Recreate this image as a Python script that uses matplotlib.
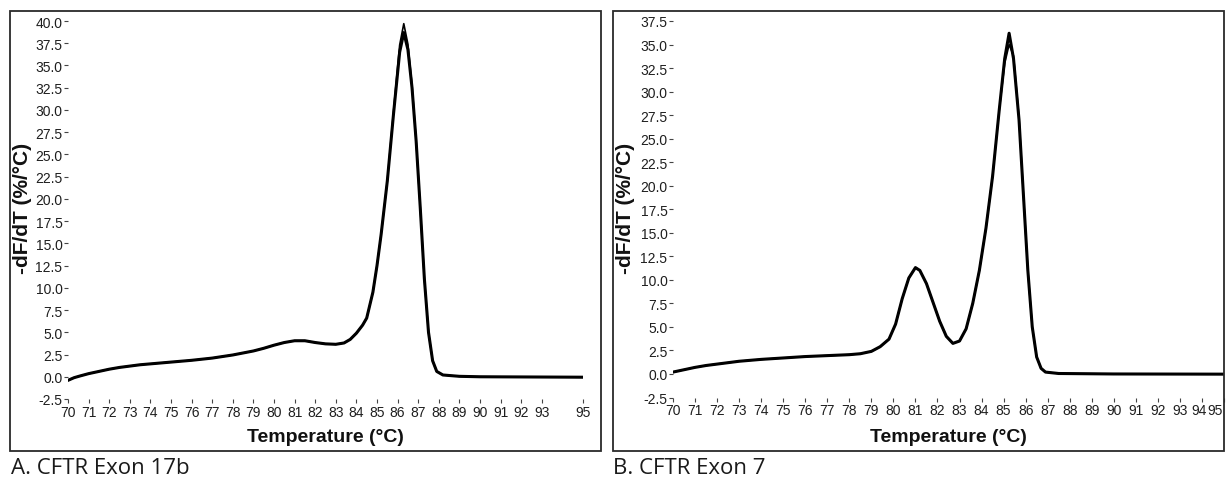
import matplotlib
matplotlib.use("Agg")
import matplotlib.pyplot as plt
from matplotlib.patches import Rectangle
from matplotlib.transforms import ScaledTranslation

# Melt-curve derivative traces (temperature in degrees C, -dF/dT in %/degC)
temp_a = [70.0, 70.3, 70.6, 71.0, 71.5, 72.0, 72.5, 73.0, 73.5, 74.0, 75.0, 76.0,
          77.0, 78.0, 79.0, 79.5, 80.0, 80.5, 81.0, 81.5, 82.0, 82.5, 83.0, 83.4,
          83.7, 84.0, 84.3, 84.5, 84.8, 85.0, 85.2, 85.5, 85.8, 86.1, 86.3, 86.5,
          86.7, 86.9, 87.1, 87.3, 87.5, 87.7, 87.9, 88.2, 89.0, 90.0, 92.0, 95.0]
dfdt_a1 = [-0.4, -0.1, 0.1, 0.35, 0.6, 0.85, 1.05, 1.2, 1.35, 1.45, 1.65, 1.85,
           2.1, 2.45, 2.9, 3.2, 3.55, 3.85, 4.05, 4.05, 3.85, 3.7, 3.65, 3.8,
           4.2, 4.9, 5.8, 6.6, 9.5, 12.5, 16.0, 22.0, 29.5, 36.5, 38.7, 36.8,
           32.5, 26.5, 19.0, 11.0, 5.0, 1.8, 0.6, 0.2, 0.05, 0.0, -0.02, -0.05]
dfdt_a2 = [-0.4, -0.1, 0.1, 0.35, 0.6, 0.85, 1.05, 1.2, 1.35, 1.45, 1.65, 1.85,
           2.1, 2.45, 2.9, 3.2, 3.55, 3.85, 4.05, 4.05, 3.85, 3.7, 3.65, 3.8,
           4.2, 4.9, 5.8, 6.6, 9.5, 12.5, 16.0, 22.0, 29.8, 37.3, 39.7, 37.4,
           32.8, 26.5, 19.0, 11.0, 5.0, 1.8, 0.6, 0.2, 0.05, 0.0, -0.02, -0.05]

temp_b = [70.0, 70.5, 71.0, 71.5, 72.0, 72.5, 73.0, 73.5, 74.0, 75.0, 76.0, 77.0,
          78.0, 78.5, 79.0, 79.4, 79.8, 80.1, 80.4, 80.7, 81.0, 81.2, 81.5, 81.8,
          82.1, 82.4, 82.7, 83.0, 83.3, 83.6, 83.9, 84.2, 84.5, 84.8, 85.05, 85.25,
          85.45, 85.7, 85.9, 86.1, 86.3, 86.5, 86.7, 86.9, 87.5, 90.0, 95.0]
dfdt_b1 = [0.2, 0.45, 0.7, 0.9, 1.05, 1.2, 1.35, 1.45, 1.55, 1.7, 1.85, 1.95,
           2.05, 2.15, 2.4, 2.9, 3.7, 5.3, 8.0, 10.2, 11.3, 11.0, 9.6, 7.6,
           5.6, 4.0, 3.25, 3.5, 4.8, 7.5, 11.0, 15.5, 21.0, 28.0, 33.5, 36.2,
           33.5, 27.0, 19.0, 11.0, 5.0, 1.8, 0.6, 0.2, 0.05, 0.0, -0.02]
dfdt_b2 = [0.2, 0.45, 0.7, 0.9, 1.05, 1.2, 1.35, 1.45, 1.55, 1.7, 1.85, 1.95,
           2.05, 2.15, 2.4, 2.9, 3.7, 5.3, 8.0, 10.2, 11.3, 11.0, 9.6, 7.6,
           5.6, 4.0, 3.25, 3.5, 4.8, 7.5, 11.0, 15.5, 21.0, 28.0, 33.0, 35.0,
           33.8, 27.2, 19.0, 11.0, 5.0, 1.8, 0.6, 0.2, 0.05, 0.0, -0.02]

xticks_a = [70, 71, 72, 73, 74, 75, 76, 77, 78, 79, 80, 81, 82, 83, 84, 85, 86,
            87, 88, 89, 90, 91, 92, 93, 95]
xticks_b = list(range(70, 96))
yticks_a = [-2.5, 0.0, 2.5, 5.0, 7.5, 10.0, 12.5, 15.0, 17.5, 20.0, 22.5, 25.0,
            27.5, 30.0, 32.5, 35.0, 37.5, 40.0]
yticks_b = yticks_a[:-1]

captions = ["A. CFTR Exon 17b", "B. CFTR Exon 7"]
ylabel = "-dF/dT (%/°C)"
xlabel = "Temperature (°C)"

W, H = 1226, 489
fig = plt.figure(figsize=(W / 100, H / 100), dpi=100)
fig.patch.set_facecolor("white")

TICK_FONT = ["Liberation Sans", "DejaVu Sans"]


def px_axes(x0, x1, y_top, y_bot):
    return fig.add_axes([x0 / W, 1 - y_bot / H, (x1 - x0) / W, (y_bot - y_top) / H])


def frame(x0, y0, x1, y1):
    fig.patches.append(Rectangle((x0 / W, 1 - y1 / H), (x1 - x0) / W, (y1 - y0) / H,
                                 transform=fig.transFigure, fill=False,
                                 edgecolor="#2a2a2a", linewidth=1.3))


def shift_px(text, dx):
    text.set_transform(text.get_transform()
                       + ScaledTranslation(dx / 100, 0, fig.dpi_scale_trans))


def style_axes(ax, xt, yt, ylim):
    ax.set_xlim(70, 95)
    ax.set_ylim(*ylim)
    for s in ax.spines.values():
        s.set_visible(False)
    ax.set_xticks(xt)
    ax.set_xticklabels([str(v) for v in xt], fontfamily=TICK_FONT, fontsize=10,
                       color="#1e1e1e")
    ax.set_yticks(yt)
    ax.set_yticklabels([f"{v:.1f}" for v in yt], fontfamily=TICK_FONT, fontsize=10,
                       color="#1e1e1e")
    ax.tick_params(axis="both", direction="out", length=3, width=0.8,
                   color="#444444", pad=1)
    ax.patch.set_alpha(0)


# Panel A
frame(10, 12, 601, 452)
ax_a = px_axes(68, 583, 22, 400)
ax_a.plot(temp_a, dfdt_a1, color="black", linewidth=2.2, solid_joinstyle="round")
ax_a.plot(temp_a, dfdt_a2, color="black", linewidth=1.2, solid_joinstyle="round")
style_axes(ax_a, xticks_a, yticks_a, (-2.5, 40.0))

# Panel B
frame(613, 12, 1224, 452)
ax_b = px_axes(673, 1224, 22, 398.5)
ax_b.plot(temp_b, dfdt_b1, color="black", linewidth=2.2, solid_joinstyle="round")
ax_b.plot(temp_b, dfdt_b2, color="black", linewidth=1.2, solid_joinstyle="round")
style_axes(ax_b, xticks_b, yticks_b, (-2.5, 37.5))

# the last two tick labels are squeezed against the panel border
labels_b = ax_b.get_xticklabels()
labels_b[-1].set_horizontalalignment("right")
shift_px(labels_b[-1], -1)
shift_px(labels_b[-2], -3)

label_font = ["Liberation Sans", "DejaVu Sans"]
for xc_ylab, xc_xlab in [(23, 325), (626, 948)]:
    fig.text(xc_ylab / W, 1 - 208 / H, ylabel, rotation=90, ha="center", va="center",
             fontsize=15, fontweight="bold", fontfamily=label_font, color="#111111")
    fig.text(xc_xlab / W, 1 - 438 / H, xlabel, ha="center", va="center",
             fontsize=14, fontweight="bold", fontfamily=label_font, color="#111111")

for xcap, cap in zip([11, 613], captions):
    fig.text(xcap / W, 1 - 469 / H, cap, ha="left", va="center", fontsize=16,
             fontfamily=["Open Sans", "DejaVu Sans"], color="#1a1a1a")

fig.savefig("out.png", dpi=100, facecolor="white")
